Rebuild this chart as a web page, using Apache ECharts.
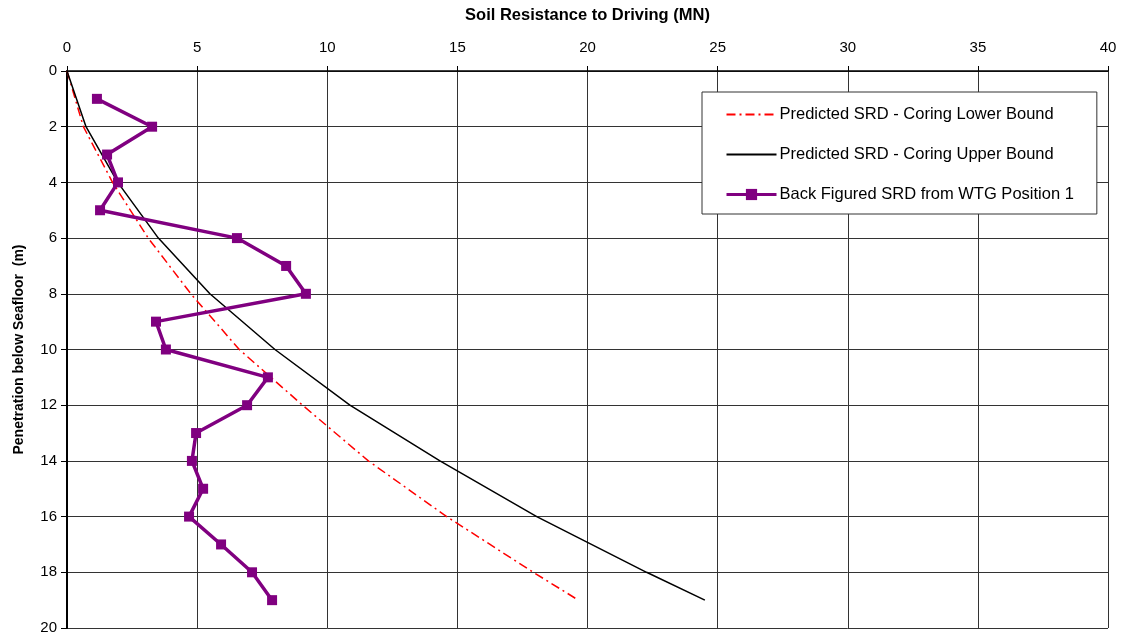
<!DOCTYPE html>
<html>
<head>
<meta charset="utf-8">
<script src="https://cdn.jsdelivr.net/npm/echarts@6/dist/echarts.min.js"></script>
<style>
  html, body { margin: 0; padding: 0; background: #fff; }
  #chart { width: 1127px; height: 636px; }
</style>
</head>
<body>
<div id="chart"></div>
<script>
// depth (m) for each series and resistance (MN)
const boundDepths = [0, 2, 4, 6, 8, 10, 12, 14, 16, 18, 19];
const lowerBound = [0, 0.63, 1.75, 3.12, 4.76, 6.62, 9.05, 11.58, 14.59, 17.92, 19.65];
const upperBound = [0, 0.73, 1.95, 3.51, 5.49, 7.99, 10.87, 14.33, 18.05, 22.27, 24.51];

const wtgDepths = [1, 2, 3, 4, 5, 6, 7, 8, 9, 10, 11, 12, 13, 14, 15, 16, 17, 18, 19];
const wtgSrd = [1.15, 3.27, 1.54, 1.96, 1.27, 6.53, 8.42, 9.18, 3.42, 3.80, 7.72, 6.92, 4.96, 4.80, 5.23, 4.69, 5.92, 7.11, 7.88];

const seriesNames = [
    "Predicted SRD - Coring Lower Bound",
    "Predicted SRD - Coring Upper Bound",
    "Back Figured SRD from WTG Position 1",
];

const pairs = (xs, ys) => xs.map((x, i) => [x, ys[i]]);

const font = "Liberation Sans, Arial, sans-serif";
const chart = echarts.init(document.getElementById("chart"));

chart.setOption({
    animation: false,
    grid: { left: 67, right: 19, top: 71, bottom: 8, outerBoundsMode: "none", containLabel: false },
    xAxis: {
        type: "value",
        position: "top",
        min: 0,
        max: 40,
        interval: 5,
        name: "Soil Resistance to Driving (MN)",
        nameLocation: "middle",
        nameGap: 47,
        nameTextStyle: { fontFamily: font, fontSize: 16.5, fontWeight: "bold", color: "#000" },
        axisLine: { lineStyle: { color: "#000", width: 1.5 } },
        axisTick: { show: true, inside: false, length: 5, lineStyle: { color: "#000" } },
        axisLabel: { fontFamily: font, fontSize: 15, color: "#000", margin: 16 },
        splitLine: { show: true, lineStyle: { color: "#333", width: 1 } },
    },
    yAxis: {
        type: "value",
        inverse: true,
        min: 0,
        max: 20,
        interval: 2,
        name: "Penetration below Seafloor  (m)",
        nameLocation: "middle",
        nameGap: 41,
        nameRotate: 90,
        nameTextStyle: { fontFamily: font, fontSize: 14, fontWeight: "bold", color: "#000" },
        axisLine: { lineStyle: { color: "#000", width: 2 } },
        axisTick: { show: true, inside: false, length: 6, lineStyle: { color: "#000" } },
        axisLabel: { fontFamily: font, fontSize: 15, color: "#000", margin: 10, padding: [3, 0, 0, 0] },
        splitLine: { show: true, lineStyle: { color: "#333", width: 1 } },
    },
    legend: {
        orient: "vertical",
        left: 702,
        top: 92,
        padding: [14, 23, 11, 23],
        itemGap: 23,
        itemWidth: 50,
        itemHeight: 14,
        backgroundColor: "#fff",
        borderColor: "#333",
        borderWidth: 1,
        textStyle: { fontFamily: font, fontSize: 16.5, color: "#000", padding: [0, 0, 0, -2] },
        data: [
            { name: seriesNames[0], itemStyle: { opacity: 0 } },
            { name: seriesNames[1], itemStyle: { opacity: 0 } },
            { name: seriesNames[2], lineStyle: { width: 3 }, itemStyle: { color: "#800080" } },
        ],
    },
    series: [
        {
            name: seriesNames[0],
            type: "line",
            data: pairs(lowerBound, boundDepths),
            showSymbol: false,
            symbol: "none",
            lineStyle: { color: "#ff0000", width: 1.5, type: [9, 4, 2, 4] },
            itemStyle: { color: "#ff0000" },
            z: 3,
        },
        {
            name: seriesNames[1],
            type: "line",
            data: pairs(upperBound, boundDepths),
            showSymbol: false,
            symbol: "none",
            lineStyle: { color: "#000", width: 1.5 },
            itemStyle: { color: "#000" },
            z: 3,
        },
        {
            name: seriesNames[2],
            type: "line",
            data: pairs(wtgSrd, wtgDepths),
            symbol: "rect",
            symbolSize: 10,
            lineStyle: { color: "#800080", width: 3.5 },
            itemStyle: { color: "#800080" },
            z: 4,
        },
    ],
});
</script>
</body>
</html>
